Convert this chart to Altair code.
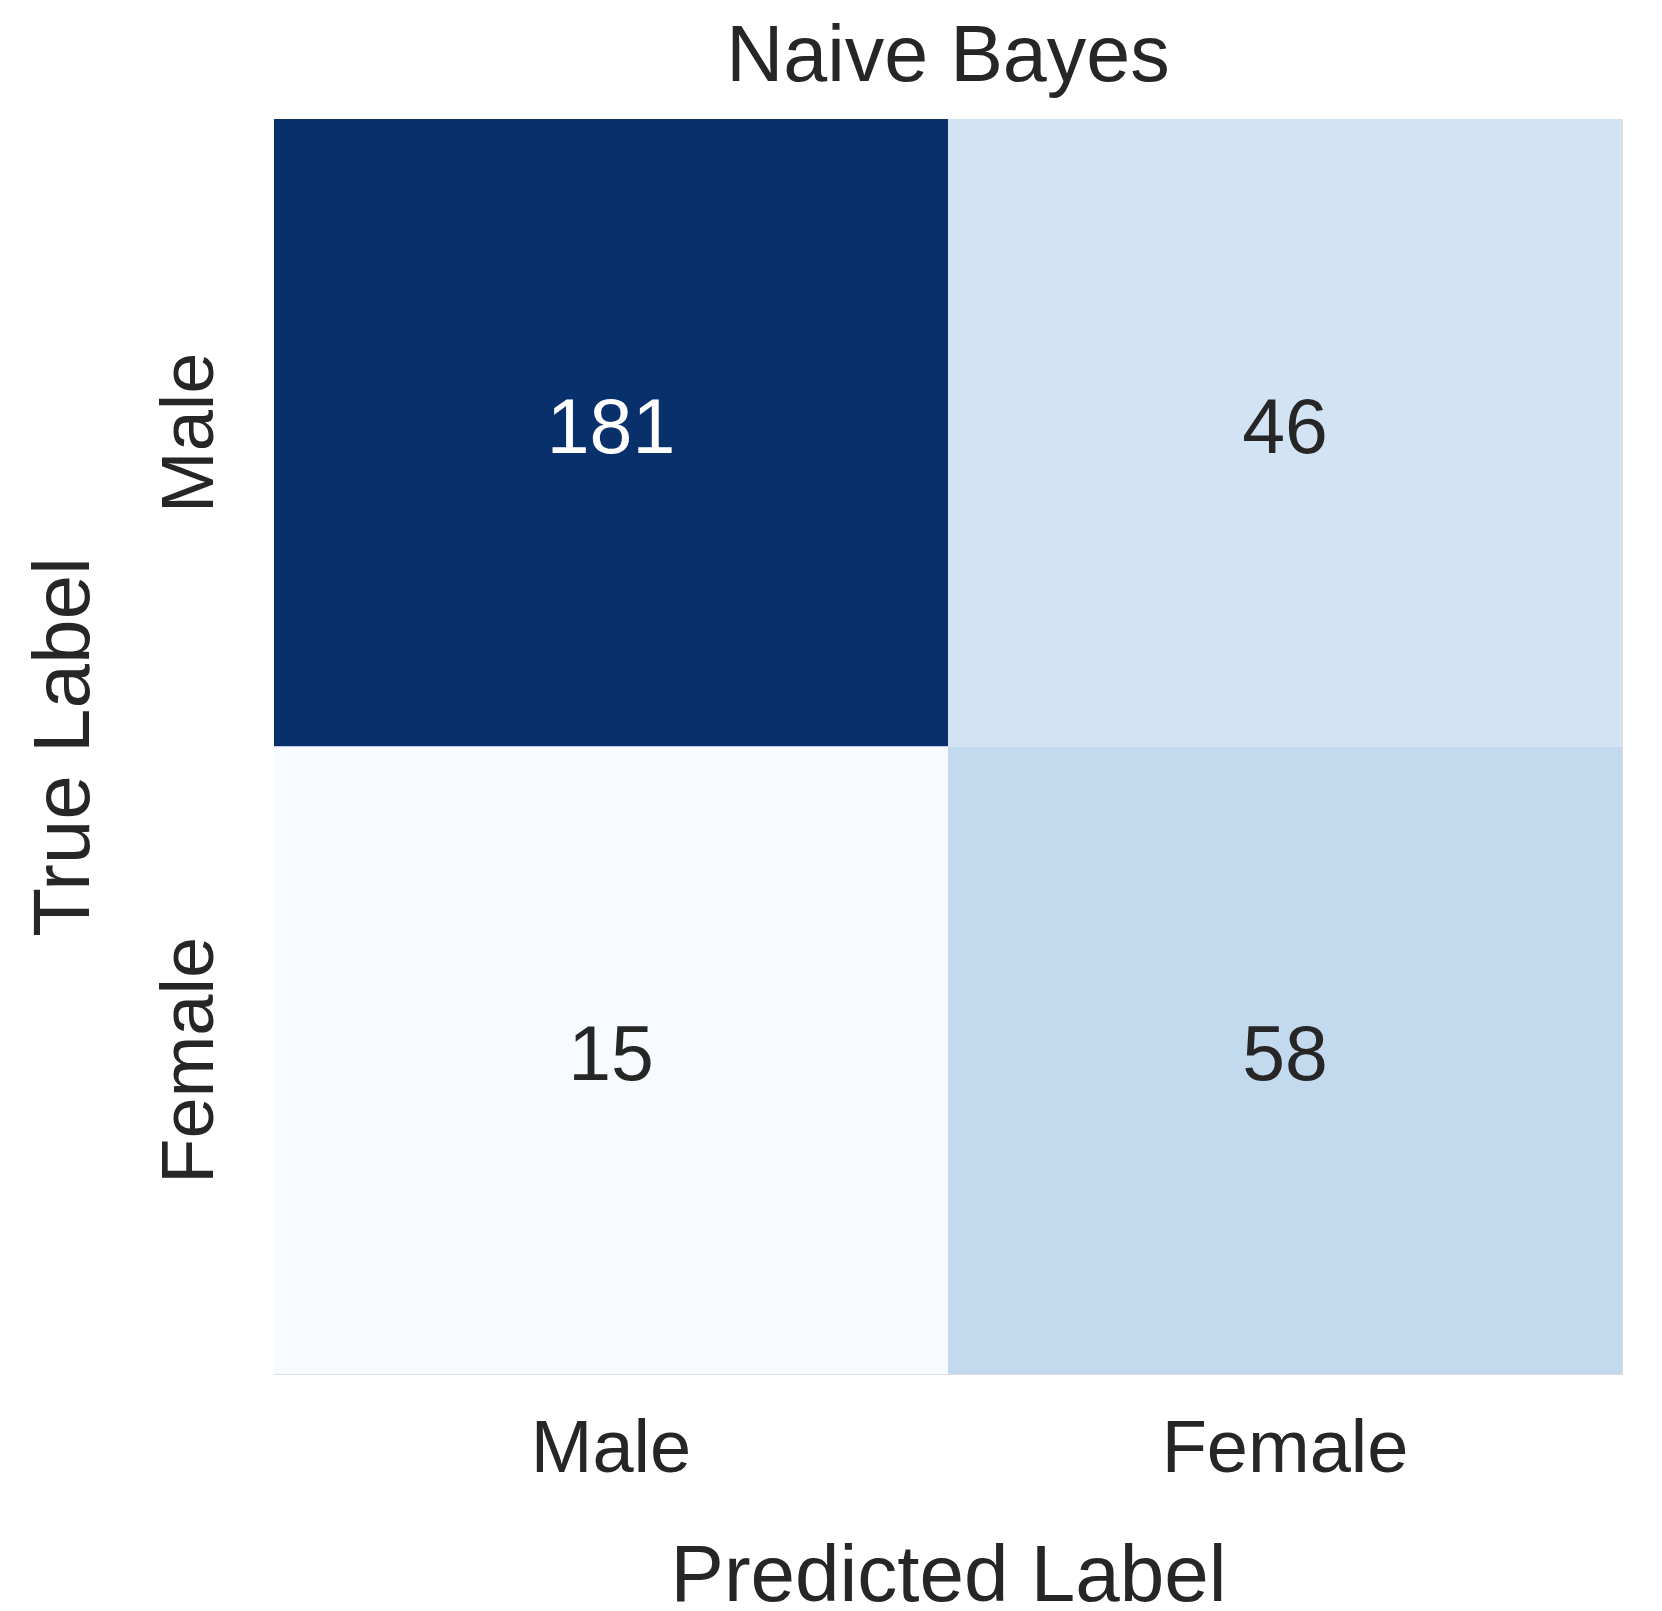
import altair as alt
import pandas as pd
import numpy as np

true_labels = ["Male", "Male", "Female", "Female"]
pred_labels = ["Male", "Female", "Male", "Female"]
counts = [181, 46, 15, 58]
order = ["Male", "Female"]

# matplotlib "Blues" colormap stops
blues = ["#f7fbff", "#deebf7", "#c6dbef", "#9ecae1", "#6baed6",
         "#4292c6", "#2171b5", "#08519c", "#08306b"]

df = pd.DataFrame({"true": true_labels, "pred": pred_labels, "count": counts})
vmin, vmax = min(counts), max(counts)
stops = list(np.linspace(vmin, vmax, len(blues)))

FONT = "Liberation Sans"
TXT = "#262626"
W, H = 1348, 1255

base = alt.Chart(df)

rect = base.mark_rect().encode(
    x=alt.X("pred:N", sort=order, scale=alt.Scale(paddingInner=0, paddingOuter=0),
            axis=alt.Axis(title="Predicted Label", labelAngle=0, domain=False, ticks=False,
                          tickSize=0, grid=False, labelFontSize=74, labelFont=FONT,
                          labelColor=TXT, labelPadding=97, labelBaseline="alphabetic",
                          labelLimit=0,
                          titleFontSize=80, titleFont=FONT, titleColor=TXT,
                          titleFontWeight="normal", titleX=W / 2, titleY=226,
                          titleBaseline="alphabetic", titleAlign="center")),
    y=alt.Y("true:N", sort=order, scale=alt.Scale(paddingInner=0, paddingOuter=0),
            axis=alt.Axis(title="True Label", labelAngle=270, domain=False, ticks=False,
                          tickSize=0, grid=False, labelFontSize=74, labelFont=FONT,
                          labelColor=TXT, labelPadding=62, labelBaseline="alphabetic",
                          labelAlign="center", labelLimit=0,
                          titleFontSize=80, titleFont=FONT, titleColor=TXT,
                          titleFontWeight="normal", titleAngle=270, titleX=-186,
                          titleY=H / 2, titleBaseline="alphabetic", titleAlign="center")),
    color=alt.Color("count:Q", scale=alt.Scale(type="linear", domain=stops, range=blues,
                                               interpolate="rgb"), legend=None),
)

text = base.mark_text(font=FONT, fontSize=77, baseline="alphabetic", dy=20, align="center").encode(
    x=alt.X("pred:N", sort=order),
    y=alt.Y("true:N", sort=order),
    text=alt.Text("count:Q"),
    color=alt.condition(alt.datum["count"] > 100, alt.value("#ffffff"), alt.value(TXT)),
)

chart = (rect + text).properties(
    width=W, height=H,
    title=alt.Title("Naive Bayes", fontSize=79, font=FONT, color=TXT, fontWeight="normal",
                    anchor="middle", baseline="alphabetic", offset=-41),
    autosize=alt.AutoSizeParams(type="none"),
    padding={"left": 266, "top": 111, "right": 24, "bottom": 234},
).configure_view(stroke=None).configure(background="#ffffff")

chart.save("out.html", embed_options={"renderer": "svg", "actions": False})
